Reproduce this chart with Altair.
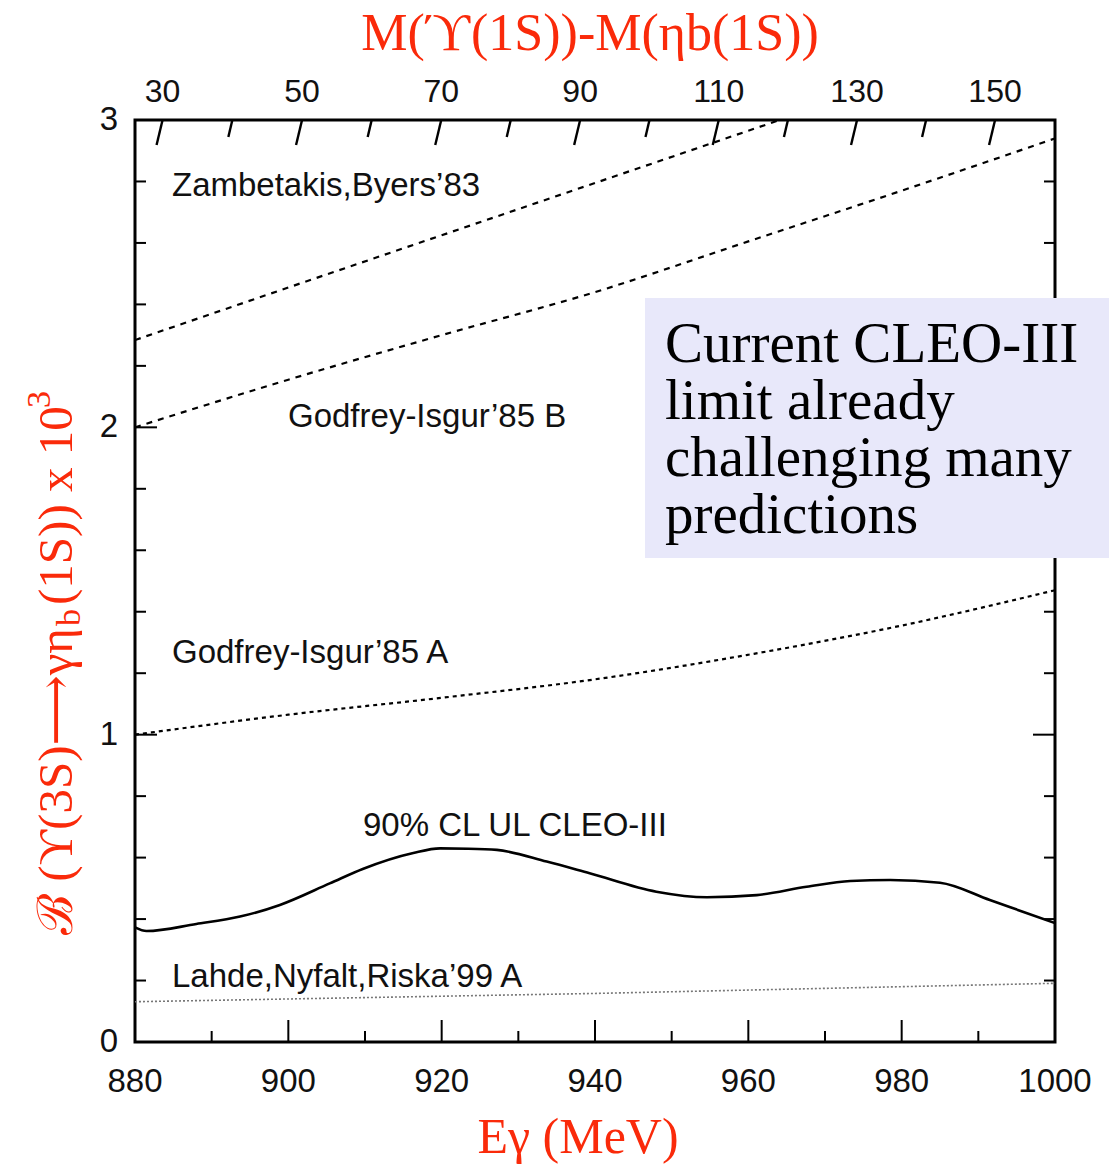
import altair as alt
import pandas as pd

# Photon energy (MeV) vs. B(Y(3S) -> gamma eta_b(1S)) x 10^3
cleo_e = [880.0, 881.5, 888.0, 893.7, 898.9, 905.4, 909.7, 916.3, 919.8, 923.5,
          927.2, 933.7, 939.3, 948.0, 954.6, 961.1, 967.6, 973.3, 978.5, 985.0,
          991.5, 995.8, 1000.0]
cleo_b = [0.373, 0.361, 0.384, 0.408, 0.446, 0.516, 0.563, 0.615, 0.630, 0.629,
          0.625, 0.587, 0.549, 0.489, 0.471, 0.478, 0.505, 0.524, 0.527, 0.518,
          0.462, 0.424, 0.387]

zb_e = [880, 900, 920, 940, 960, 964.1]
zb_b = [2.284, 2.455, 2.625, 2.795, 2.965, 3.0]

gib_e = [880, 900, 920, 940, 960, 980, 1000]
gib_b = [2.00, 2.155, 2.30, 2.44, 2.605, 2.77, 2.94]

gia_e = [880, 900, 920, 940, 960, 980, 1000]
gia_b = [1.00, 1.065, 1.12, 1.18, 1.26, 1.355, 1.47]

lnr_e = [880, 940, 1000]
lnr_b = [0.131, 0.158, 0.191]

x_major = [880, 900, 920, 940, 960, 980, 1000]
x_minor = [890, 910, 930, 950, 970, 990]
y_major = [1, 2]
y_minor = [0.2, 0.4, 0.6, 0.8, 1.2, 1.4, 1.6, 1.8, 2.2, 2.4, 2.6, 2.8]
y_labels = [0, 1, 2, 3]

# hyperfine splitting M(Y(1S)) - M(eta_b(1S)) in MeV for the upper scale
dm_major = [30, 50, 70, 90, 110, 130, 150]
dm_minor = [40, 60, 80, 100, 120, 140]
M3S, M1S = 10355.2, 9460.3


def egamma(dm):
    m_eta = M1S - dm
    return (M3S ** 2 - m_eta ** 2) / (2 * M3S)


W, H = 920, 922
RED = "#FA2A0A"
INK = "#111111"
SANS = "Liberation Sans, Arial, Helvetica, sans-serif"
SERIF = "Liberation Serif, DejaVu Serif, Times New Roman, serif"

xs = alt.Scale(domain=[880, 1000], nice=False, zero=False)
ys = alt.Scale(domain=[0, 3], nice=False, zero=False)


def series(e, b):
    return pd.DataFrame({"e": e, "b": b})


def line(df, color="black", **style):
    return alt.Chart(df).mark_line(color=color, clip=True, **style).encode(
        x=alt.X("e:Q", scale=xs, axis=None),
        y=alt.Y("b:Q", scale=ys, axis=None),
    )


one = pd.DataFrame({"a": [0]})


def label(txt, x, y, size=33, font=SANS, color=INK, **kw):
    return alt.Chart(one).mark_text(
        font=font, fontSize=size, color=color, align=kw.pop("align", "left"),
        baseline=kw.pop("baseline", "alphabetic"), **kw
    ).encode(x=alt.value(x), y=alt.value(y), text=alt.value(txt))


layers = []

# model predictions and the measured upper limit
layers.append(line(series(cleo_e, cleo_b), strokeWidth=2.6, interpolate="monotone"))
layers.append(line(series(zb_e, zb_b), strokeWidth=2.2, strokeDash=[6, 6]))
layers.append(line(series(gib_e, gib_b), strokeWidth=2.2, strokeDash=[6, 6],
                   interpolate="monotone"))
layers.append(line(series(gia_e, gia_b), strokeWidth=2.2, strokeDash=[4, 4],
                   interpolate="monotone"))
layers.append(line(series(lnr_e, lnr_b), color="#777777", strokeWidth=1.6,
                   strokeDash=[2, 2]))

# inward ticks along the frame
def vticks(vals, length, side):
    df = pd.DataFrame({"v": vals})
    x0, x1 = (0, length) if side == "left" else (W, W - length)
    return alt.Chart(df).mark_rule(color="black", strokeWidth=2).encode(
        y=alt.Y("v:Q", scale=ys, axis=None), x=alt.value(x0), x2=alt.value(x1))


def hticks(vals, length):
    df = pd.DataFrame({"v": vals})
    return alt.Chart(df).mark_rule(color="black", strokeWidth=2).encode(
        x=alt.X("v:Q", scale=xs, axis=None), y=alt.value(H), y2=alt.value(H - length))


for side in ("left", "right"):
    layers.append(vticks(y_major, 22, side))
    layers.append(vticks(y_minor, 11, side))
layers.append(hticks(x_major, 22))
layers.append(hticks(x_minor, 11))

# tick labels of the bottom and left scales
layers.append(
    alt.Chart(pd.DataFrame({"v": x_major, "t": [str(v) for v in x_major]})).mark_text(
        font=SANS, fontSize=33, color=INK, align="center", baseline="alphabetic"
    ).encode(x=alt.X("v:Q", scale=xs, axis=None), y=alt.value(H + 50), text="t:N")
)
layers.append(
    alt.Chart(pd.DataFrame({"v": y_labels, "t": [str(v) for v in y_labels]})).mark_text(
        font=SANS, fontSize=33, color=INK, align="right", baseline="middle"
    ).encode(y=alt.Y("v:Q", scale=ys, axis=None), x=alt.value(-17), text="t:N")
)

# slanted ticks of the upper scale
def slanted(vals, length, slant):
    df = pd.DataFrame({"e": [egamma(v) for v in vals]})
    return alt.Chart(df).mark_rule(color="black", strokeWidth=2.4, x2Offset=-slant).encode(
        x=alt.X("e:Q", scale=xs, axis=None), x2="e:Q",
        y=alt.value(0), y2=alt.value(length))


layers.append(slanted(dm_major, 25, 6))
layers.append(slanted(dm_minor, 17, 4))

top_df = pd.DataFrame({"e": [egamma(v) for v in dm_major],
                       "t": [str(v) for v in dm_major]})
layers.append(
    alt.Chart(top_df).mark_text(font=SANS, fontSize=32, color=INK,
                                align="center", baseline="alphabetic").encode(
        x=alt.X("e:Q", scale=xs, axis=None), y=alt.value(-18), text="t:N")
)

# curve labels
layers.append(label("Zambetakis,Byers\u201983", 37, 76))
layers.append(label("Godfrey-Isgur\u201985 B", 153, 307))
layers.append(label("Godfrey-Isgur\u201985 A", 37, 543))
layers.append(label("90% CL UL CLEO-III", 228, 716))
layers.append(label("Lahde,Nyfalt,Riska\u201999 A", 37, 867))

# axis titles
layers.append(label("M(\u03d3(1S))-M(\u03b7b(1S))", 455, -70, size=52, font=SERIF,
                    color=RED, align="center"))
layers.append(label("E\u03b3 (MeV)", 443, 1033, size=50, font=SERIF, color=RED,
                    align="center"))
layers.append(label("\u212c (\u03d2(3S)\u27f6\u03b3\u03b7", -63, 508, size=49, font=SERIF,
                    color=RED, align="right", angle=270))
layers.append(label("b", -55, 506, size=34, font=SERIF, color=RED, angle=270))
layers.append(label("(1S)) x 10", -63, 485, size=49, font=SERIF, color=RED, angle=270))
layers.append(label("3", -85, 288, size=34, font=SERIF, color=RED, angle=270))

# annotation box
layers.append(
    alt.Chart(one).mark_rect(color="#E8E8FA").encode(
        x=alt.value(510), x2=alt.value(974), y=alt.value(178), y2=alt.value(438))
)
layers.append(
    alt.Chart(one).mark_text(
        font=SERIF, fontSize=57, color="black", align="left", baseline="alphabetic",
        lineHeight=57,
        text=["Current CLEO-III", "limit already", "challenging many", "predictions"],
    ).encode(x=alt.value(530), y=alt.value(242))
)

chart = alt.layer(*layers).properties(
    width=W, height=H,
    autosize=alt.AutoSizeParams(type="none"),
    padding={"left": 135, "top": 120, "right": 54, "bottom": 123},
    background="white",
).configure_view(stroke="black", strokeWidth=3)

chart.save("out.html", embed_options={"renderer": "svg", "actions": False})
